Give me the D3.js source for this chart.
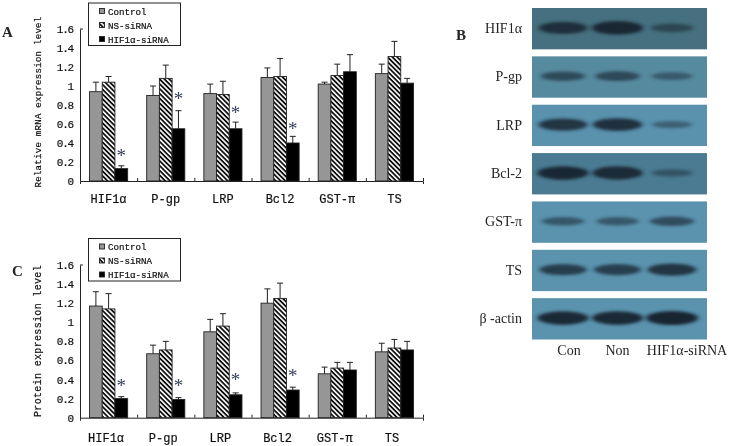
<!DOCTYPE html>
<html>
<head>
<meta charset="utf-8">
<script src="https://cdnjs.cloudflare.com/ajax/libs/d3/7.8.5/d3.min.js"></script>
<style>
  html, body { margin: 0; padding: 0; background: #fff; }
  svg { display: block; }
  .mono { font-family: "Liberation Mono", "DejaVu Sans Mono", monospace; fill: #111; stroke: #111; stroke-width: 0.2; }
  .serif { font-family: "Liberation Serif", serif; fill: #222; opacity: 0.99; }
</style>
</head>
<body>
<svg id="fig" width="733" height="446"></svg>
<script>
var categories = ['HIF1\u03b1', 'P-gp', 'LRP', 'Bcl2', 'GST-\u03c0', 'TS'];
var seriesNames = ['Control', 'NS-siRNA', 'HIF1\u03b1-siRNA'];
var yTicks = [0, 0.2, 0.4, 0.6, 0.8, 1, 1.2, 1.4, 1.6];

// Panel A, mRNA
var mrnaControl = [0.94, 0.90, 0.92, 1.09, 1.02, 1.13];
var mrnaNs = [1.04, 1.08, 0.91, 1.10, 1.11, 1.31];
var mrnaSi = [0.13, 0.55, 0.55, 0.40, 1.15, 1.03];
var mrnaControlTop = [1.04, 1.00, 1.02, 1.19, 1.04, 1.23];
var mrnaNsTop = [1.10, 1.22, 1.05, 1.29, 1.23, 1.47];
var mrnaSiTop = [0.16, 0.74, 0.62, 0.47, 1.33, 1.08];
var mrnaStars = [0.29, 0.89, 0.75, 0.58, null, null];

// Panel C, protein
var protControl = [1.17, 0.67, 0.90, 1.20, 0.46, 0.69];
var protNs = [1.14, 0.71, 0.96, 1.25, 0.52, 0.73];
var protSi = [0.20, 0.19, 0.24, 0.29, 0.50, 0.71];
var protControlTop = [1.32, 0.76, 1.03, 1.35, 0.53, 0.78];
var protNsTop = [1.30, 0.80, 1.09, 1.41, 0.58, 0.82];
var protSiTop = [0.22, 0.21, 0.26, 0.32, 0.58, 0.80];
var protStars = [0.36, 0.36, 0.43, 0.47, null, null];

// Panel B, blot band strength per lane (0-1)
var blotLabels = ['HIF1\u03b1', 'P-gp', 'LRP', 'Bcl-2', 'GST-\u03c0', 'TS', '\u03b2 -actin'];
var laneNames = ['Con', 'Non', 'HIF1\u03b1-siRNA'];
var blotBands = [
  [0.8, 0.95, 0.4],
  [0.5, 0.52, 0.3],
  [0.8, 0.85, 0.25],
  [0.95, 0.9, 0.28],
  [0.4, 0.38, 0.5],
  [0.7, 0.68, 0.8],
  [0.95, 0.95, 1]
];
var blotColors = ['#46707f', '#568a9f', '#5a91ad', '#4b7b92', '#5b93ae', '#5b93ae', '#5b93ae'];

var svg = d3.select('#fig');
var defs = svg.append('defs');

defs.append('pattern')
    .attr('id', 'hatch')
    .attr('width', 3.4).attr('height', 3.4)
    .attr('patternUnits', 'userSpaceOnUse')
    .attr('patternTransform', 'rotate(45)')
  .append('rect')
    .attr('width', 3.4).attr('height', 1.8)
    .attr('fill', '#111');

defs.append('filter').attr('id', 'bandBlur')
    .attr('x', '-30%').attr('y', '-80%').attr('width', '160%').attr('height', '260%')
  .append('feGaussianBlur').attr('stdDeviation', '2.6 1.8');

defs.append('filter').attr('id', 'soft')
    .attr('x', '-5%').attr('y', '-5%').attr('width', '110%').attr('height', '110%')
  .append('feGaussianBlur').attr('stdDeviation', 0.3);

var seriesFill = ['#969696', 'url(#hatch)', '#000'];

var drawChart = function(opts) {
  var g = svg.append('g').attr('filter', 'url(#soft)');

  var x = d3.scaleBand().domain(categories).range([80, 423]);
  var xInner = d3.scaleBand().domain(d3.range(3)).range([0, x.bandwidth()])
      .paddingInner(0).paddingOuter(0.75);
  var y = d3.scaleLinear().domain([0, 1.6]).range([opts.bottom, opts.top]);

  // Bars and their upward error bars
  opts.values.forEach(function(vals, s) {
    var col = g.append('g');
    var ex = function(d, i) { return x(categories[i]) + xInner(s) + xInner.bandwidth() / 2; };

    col.selectAll('line.stem').data(vals).enter().append('line')
        .attr('x1', ex).attr('x2', ex)
        .attr('y1', function(d) { return y(d); })
        .attr('y2', function(d, i) { return y(opts.tops[s][i]); })
        .attr('stroke', '#222').attr('stroke-width', 1);

    col.selectAll('line.cap').data(vals).enter().append('line')
        .attr('x1', function(d, i) { return ex(d, i) - 3; })
        .attr('x2', function(d, i) { return ex(d, i) + 3; })
        .attr('y1', function(d, i) { return y(opts.tops[s][i]); })
        .attr('y2', function(d, i) { return y(opts.tops[s][i]); })
        .attr('stroke', '#222').attr('stroke-width', 1);

    if (s === 1) {
      col.selectAll('rect.under').data(vals).enter().append('rect')
          .attr('x', function(d, i) { return x(categories[i]) + xInner(s); })
          .attr('y', function(d) { return y(d); })
          .attr('width', xInner.bandwidth())
          .attr('height', function(d) { return y(0) - y(d); })
          .attr('fill', '#fff');
    }

    col.selectAll('rect.bar').data(vals).enter().append('rect')
        .attr('x', function(d, i) { return x(categories[i]) + xInner(s); })
        .attr('y', function(d) { return y(d); })
        .attr('width', xInner.bandwidth())
        .attr('height', function(d) { return y(0) - y(d); })
        .attr('fill', seriesFill[s])
        .attr('stroke', '#222').attr('stroke-width', 0.9);
  });

  // Stars over the knockdown bars
  g.selectAll('text.star').data(opts.stars).enter().append('text')
      .attr('class', 'star')
      .attr('x', function(d, i) { return x(categories[i]) + xInner(2) + xInner.bandwidth() / 2; })
      .attr('y', function(d) { return d === null ? 0 : y(d) + 9; })
      .attr('text-anchor', 'middle')
      .attr('font-family', 'Liberation Serif')
      .attr('font-size', 19)
      .attr('fill', '#39405e')
      .text(function(d) { return d === null ? '' : '*'; });

  // Axes
  var yAxis = d3.axisLeft(y).tickValues(yTicks).tickSize(0).tickPadding(7)
      .tickFormat(function(d) { return d; });
  var gy = g.append('g').attr('transform', 'translate(80,0)').call(yAxis);
  gy.selectAll('text').attr('class', 'mono').attr('font-size', 11)
      .attr('letter-spacing', -1.2).style('font-family', null);
  gy.select('.domain').attr('stroke', '#222');
  g.append('line')
      .attr('x1', 80).attr('x2', 83)
      .attr('y1', y(1.6)).attr('y2', y(1.6))
      .attr('stroke', '#222');

  var edges = d3.scaleLinear().domain([0, 6]).range([80, 423]);
  var xAxis = d3.axisBottom(edges).ticks(6).tickSize(3).tickSizeOuter(3).tickFormat('');
  var gx = g.append('g').attr('transform', 'translate(0,' + y(0) + ')').call(xAxis);
  gx.selectAll('line, path').attr('stroke', '#222');
  gx.selectAll('.tick line').attr('y1', -3).attr('y2', 0);

  g.selectAll('text.cat').data(categories).enter().append('text')
      .attr('class', 'mono cat')
      .attr('x', function(d) { return x(d) + x.bandwidth() / 2 + opts.catShift; })
      .attr('y', y(0) + opts.catGap)
      .attr('text-anchor', 'middle')
      .attr('font-size', 12)
      .text(function(d) { return d; });

  g.append('text')
      .attr('class', 'mono')
      .attr('transform', 'translate(41,' + opts.labelY + ') rotate(-90)')
      .attr('text-anchor', 'middle')
      .attr('font-size', opts.labelSize)
      .attr('letter-spacing', opts.labelSpacing)
      .text(opts.label);

  // Legend
  var leg = g.append('g').attr('transform', 'translate(88.5,' + opts.legendTop + ')');
  leg.append('rect').attr('width', 92).attr('height', 42.5)
      .attr('fill', '#fff').attr('stroke', '#222').attr('stroke-width', 1);
  var rows = leg.selectAll('g.row').data(seriesNames).enter().append('g')
      .attr('transform', function(d, i) { return 'translate(11,' + (5.5 + i * 14) + ')'; });
  rows.append('rect').attr('width', 5).attr('height', 5)
      .attr('fill', function(d, i) { return seriesFill[i]; })
      .attr('stroke', '#222').attr('stroke-width', 0.9);
  rows.append('text')
      .attr('class', 'mono')
      .attr('x', 8.5).attr('y', 6)
      .attr('font-size', 9.2)
      .text(function(d) { return d; });

  g.append('text')
      .attr('class', 'serif')
      .attr('x', opts.letterX).attr('y', opts.letterY)
      .attr('font-size', 15).attr('font-weight', 'bold')
      .text(opts.letter);
};

drawChart({
  top: 29, bottom: 181, legendTop: 3,
  values: [mrnaControl, mrnaNs, mrnaSi],
  tops: [mrnaControlTop, mrnaNsTop, mrnaSiTop],
  stars: mrnaStars,
  label: 'Relative mRNA expression level', labelY: 102, labelSize: 9, labelSpacing: 0.3,
  catGap: 22, catShift: 0,
  letter: 'A', letterX: 2, letterY: 37
});

drawChart({
  top: 265, bottom: 417.7, legendTop: 238.5,
  values: [protControl, protNs, protSi],
  tops: [protControlTop, protNsTop, protSiTop],
  stars: protStars,
  label: 'Protein expression level', labelY: 341, labelSize: 10, labelSpacing: 0.33,
  catGap: 24, catShift: -2.5,
  letter: 'C', letterX: 12, letterY: 276
});

// Panel B, the blot strips
var rowY = d3.scaleBand().domain(blotLabels).range([8, 339.5]).paddingInner(0.145);
var lane = d3.scalePoint().domain(laneNames).range([563, 672]);
var bandW = d3.scaleLinear().domain([0, 1]).range([36, 52]);
var bandH = d3.scaleLinear().domain([0, 1]).range([5, 14]);

var strip = svg.selectAll('g.strip').data(blotLabels).enter().append('g')
    .attr('class', 'strip')
    .attr('transform', function(d) { return 'translate(0,' + rowY(d) + ')'; });

strip.append('rect')
    .attr('x', 532).attr('width', 175)
    .attr('height', rowY.bandwidth())
    .attr('fill', function(d, i) { return blotColors[i]; });

strip.each(function(d, i) {
  d3.select(this).selectAll('ellipse').data(blotBands[i]).enter().append('ellipse')
      .attr('cx', function(v, j) { return lane(laneNames[j]); })
      .attr('cy', rowY.bandwidth() * 0.48)
      .attr('rx', function(v) { return bandW(v) / 2; })
      .attr('ry', function(v) { return bandH(v) / 2; })
      .attr('fill', '#14242f')
      .attr('opacity', function(v) { return 0.25 + 0.72 * v; })
      .attr('filter', 'url(#bandBlur)');
});

strip.append('text')
    .attr('class', 'serif')
    .attr('x', 522)
    .attr('y', rowY.bandwidth() * 0.48 + 5)
    .attr('text-anchor', 'end')
    .attr('font-size', 14)
    .text(function(d) { return d; });

var laneShift = [6, 0, 15];
svg.selectAll('text.lane').data(laneNames).enter().append('text')
    .attr('class', 'serif lane')
    .attr('x', function(d, i) { return lane(d) + laneShift[i]; })
    .attr('y', 355)
    .attr('text-anchor', 'middle')
    .attr('font-size', 14)
    .text(function(d) { return d; });

svg.append('text')
    .attr('class', 'serif')
    .attr('x', 456).attr('y', 40)
    .attr('font-size', 15).attr('font-weight', 'bold')
    .text('B');
</script>
</body>
</html>
